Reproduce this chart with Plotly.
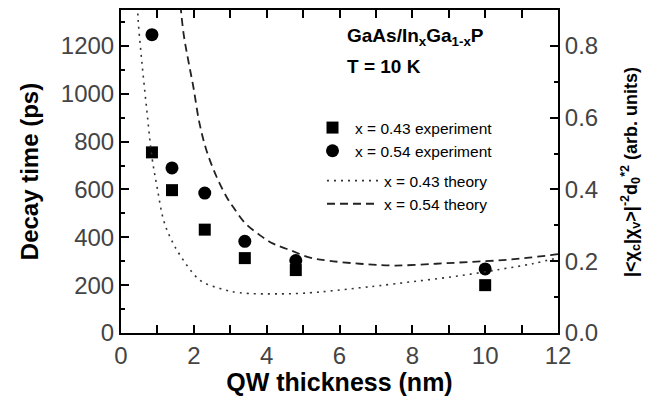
import plotly.graph_objects as go

# Measured decay times (ps) vs. quantum-well thickness (nm)
thickness = [0.85, 1.4, 2.3, 3.4, 4.8, 10.0]
decay_x043 = [755, 597, 432, 313, 263, 200]
decay_x054 = [1247, 690, 585, 383, 303, 268]

# Calculated |<chi_c|chi_v>|^-2 d0*^2 (arb. units) vs. thickness (nm)
theory_x043_t = [0.44, 0.47, 0.57, 0.71, 0.85, 0.99, 1.17, 1.35, 1.62, 2.17, 2.72,
                 3.27, 4.36, 5.19, 5.73, 6.56, 7.1, 8.0, 9.2, 10.39, 11.3, 12.0]
theory_x043_v = [0.95, 0.874, 0.758, 0.619, 0.49, 0.407, 0.314, 0.267, 0.217, 0.147, 0.124,
                 0.112, 0.109, 0.112, 0.117, 0.126, 0.132, 0.143, 0.158, 0.177, 0.193, 0.21]
theory_x054_t = [1.6, 1.72, 1.85, 1.99, 2.15, 2.35, 2.63, 2.9, 3.08, 3.4, 3.82, 4.18,
                 4.64, 5.19, 5.73, 6.56, 7.5, 8.66, 9.57, 10.48, 11.2, 11.8, 12.0]
theory_x054_v = [0.95, 0.833, 0.758, 0.684, 0.587, 0.508, 0.434, 0.379, 0.351, 0.307, 0.272, 0.249,
                 0.231, 0.21, 0.201, 0.193, 0.188, 0.193, 0.198, 0.203, 0.21, 0.217, 0.22]

FONT = "Liberation Sans, Arial, sans-serif"

fig = go.Figure()

fig.add_trace(go.Scatter(
    x=thickness, y=decay_x043, mode="markers", name="x = 0.43 experiment",
    marker=dict(symbol="square", size=12, color="black"), legend="legend"))
fig.add_trace(go.Scatter(
    x=thickness, y=decay_x054, mode="markers", name="x = 0.54 experiment",
    marker=dict(symbol="circle", size=13, color="black"), legend="legend"))
fig.add_trace(go.Scatter(
    x=theory_x043_t, y=theory_x043_v, mode="lines", name="x = 0.43 theory",
    line=dict(color="#333", width=1.6, dash="2px,5px", shape="spline"),
    yaxis="y2", legend="legend2"))
fig.add_trace(go.Scatter(
    x=theory_x054_t, y=theory_x054_v, mode="lines", name="x = 0.54 theory",
    line=dict(color="#222", width=1.8, dash="8px,5px", shape="spline"),
    yaxis="y2", legend="legend2"))

tickfont = dict(family=FONT, size=24, color="#444")

PL, PT, PW, PH = 121, 10, 437, 323  # plot area in pixels


def px_x(v):
    return (v - PL) / PW


def px_y(v):
    return 1 - (v - PT) / PH


fig.update_layout(
    width=646, height=396,
    margin=dict(l=PL, r=646 - PL - PW, t=PT, b=396 - PT - PH),
    paper_bgcolor="white", plot_bgcolor="white",
    font=dict(family=FONT),
    xaxis=dict(
        range=[0, 12], dtick=2, tick0=0, automargin=False,
        showline=True, linewidth=2, linecolor="black", mirror="allticks",
        ticks="inside", ticklen=8, tickwidth=2, tickcolor="black",
        minor=dict(dtick=1, ticks="inside", ticklen=4, tickwidth=2, tickcolor="black"),
        showgrid=False, zeroline=False, tickfont=tickfont,
        title=dict(text="<b>QW thickness (nm)</b>",
                   font=dict(family=FONT, size=25, color="black")),
    ),
    yaxis=dict(
        range=[0, 1350], dtick=200, tick0=0, automargin=False,
        showline=True, linewidth=2, linecolor="black", mirror=True,
        ticks="inside", ticklen=8, tickwidth=2, tickcolor="black",
        minor=dict(dtick=100, ticks="inside", ticklen=4, tickwidth=2, tickcolor="black"),
        showgrid=False, zeroline=False, tickfont=tickfont,
        title=dict(text="<b>Decay time (ps)</b>",
                   font=dict(family=FONT, size=24, color="black")),
    ),
    yaxis2=dict(
        range=[0, 0.9], dtick=0.2, tick0=0, tickformat=".1f", automargin=False,
        overlaying="y", side="right",
        showline=True, linewidth=2, linecolor="black",
        ticks="inside", ticklen=8, tickwidth=2, tickcolor="black",
        minor=dict(dtick=0.1, ticks="inside", ticklen=4, tickwidth=2, tickcolor="black"),
        showgrid=False, zeroline=False, tickfont=tickfont,
    ),
    legend=dict(
        x=px_x(310), y=px_y(111), xanchor="left", yanchor="top",
        bgcolor="rgba(0,0,0,0)", font=dict(family=FONT, size=15.5, color="black"),
        itemwidth=35, tracegroupgap=0,
    ),
    legend2=dict(
        x=px_x(322), y=px_y(164), xanchor="left", yanchor="top",
        bgcolor="rgba(0,0,0,0)", font=dict(family=FONT, size=15.5, color="black"),
        itemwidth=52, tracegroupgap=0,
    ),
    annotations=[
        dict(text="<b>GaAs/In<sub>x</sub>Ga<sub>1-x</sub>P</b>", x=px_x(345), y=px_y(37),
             xref="paper", yref="paper", xanchor="left", yanchor="middle", showarrow=False,
             font=dict(family=FONT, size=19, color="black")),
        dict(text="<b>T = 10 K</b>", x=px_x(345), y=px_y(66),
             xref="paper", yref="paper", xanchor="left", yanchor="middle", showarrow=False,
             font=dict(family=FONT, size=19, color="black")),
        # right-hand axis title
        dict(text="<b>|<χ<sub>c</sub>|χ<sub>v</sub>>|<sup>-2</sup>d<sub>0</sub><sup>*2</sup> (arb. units)</b>",
             x=px_x(630), y=px_y(172), xref="paper", yref="paper",
             xanchor="center", yanchor="middle", textangle=-90, showarrow=False,
             font=dict(family=FONT, size=18, color="black")),
    ],
)

fig.write_html("out.html")
